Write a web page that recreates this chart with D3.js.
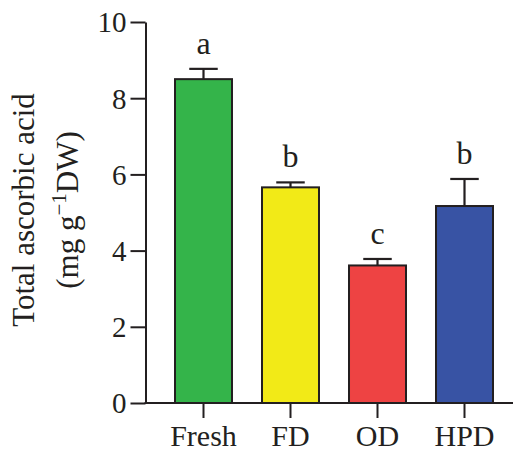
<!DOCTYPE html>
<html>
<head>
<meta charset="utf-8">
<script src="https://cdn.jsdelivr.net/npm/d3@7"></script>
<style>
  html, body { margin: 0; padding: 0; background: #fff; }
  svg { display: block; }
  text { font-family: "Liberation Serif", "Times New Roman", serif; fill: #231f20; }
</style>
</head>
<body>
<svg id="chart" width="515" height="450"></svg>
<script>
// Total ascorbic acid by drying treatment (mean ± SD)
const categories = ["Fresh", "FD", "OD", "HPD"];
const means = [8.50, 5.66, 3.61, 5.17];
const errors = [0.27, 0.13, 0.17, 0.71];
const letters = ["a", "b", "c", "b"];
const colors = ["#34b44a", "#f2ea17", "#ee4343", "#3853a4"];
const yTicks = [0, 2, 4, 6, 8, 10];

const svg = d3.select("#chart");
const ink = "#231f20";

const y = d3.scaleLinear().domain([0, 10]).range([403, 22]);
const x = d3.scaleBand().domain(categories).range([160, 508])
  .paddingInner(0.345).paddingOuter(0.1725);

const axisX0 = 145.5;
const axisXEnd = 513;

// y axis
const gy = svg.append("g").attr("transform", `translate(${axisX0},0)`)
  .call(d3.axisLeft(y).tickValues(yTicks).tickSize(15).tickSizeOuter(0).tickPadding(4));
gy.select(".domain").attr("stroke", ink).attr("stroke-width", 2);
gy.selectAll(".tick line").attr("stroke", ink).attr("stroke-width", 2);
gy.selectAll(".tick text").attr("font-size", 29).attr("fill", ink)
  .attr("dy", "0.34em")
  .style("font-family", '"Liberation Serif", serif');

// x axis
const gx = svg.append("g").attr("transform", `translate(0,${y(0)})`)
  .call(d3.axisBottom(x).tickSize(15).tickSizeOuter(0).tickPadding(7));
gx.select(".domain").remove();
gx.selectAll(".tick line").attr("stroke", ink).attr("stroke-width", 2);
gx.selectAll(".tick text").attr("font-size", 30).attr("fill", ink)
  .attr("dy", "0.7em")
  .style("font-family", '"Liberation Serif", serif');
svg.append("line")
  .attr("x1", axisX0 - 1).attr("x2", axisXEnd)
  .attr("y1", y(0)).attr("y2", y(0))
  .attr("stroke", ink).attr("stroke-width", 2);

// bars
svg.append("g").selectAll("rect").data(categories).join("rect")
  .attr("x", d => x(d))
  .attr("y", (d, i) => y(means[i]))
  .attr("width", x.bandwidth())
  .attr("height", (d, i) => y(0) - y(means[i]))
  .attr("fill", (d, i) => colors[i])
  .attr("stroke", ink).attr("stroke-width", 2);

// error bars (upper only)
const capHalf = x.bandwidth() / 4;
const eb = svg.append("g").attr("stroke", ink).attr("stroke-width", 2.2);
categories.forEach((c, i) => {
  const cx = x(c) + x.bandwidth() / 2;
  eb.append("line").attr("x1", cx).attr("x2", cx)
    .attr("y1", y(means[i])).attr("y2", y(means[i] + errors[i]));
  eb.append("line").attr("x1", cx - capHalf).attr("x2", cx + capHalf)
    .attr("y1", y(means[i] + errors[i])).attr("y2", y(means[i] + errors[i]));
});

// significance letters
svg.append("g").selectAll("text").data(categories).join("text")
  .attr("x", d => x(d) + x.bandwidth() / 2)
  .attr("y", (d, i) => y(means[i] + errors[i]) - 15)
  .attr("text-anchor", "middle")
  .attr("font-size", 32)
  .text((d, i) => letters[i]);

// y axis title (two lines)
const title = svg.append("g").attr("transform", "translate(0,210) rotate(-90)");
title.append("text")
  .attr("x", 0).attr("y", 34)
  .attr("text-anchor", "middle")
  .attr("font-size", 31)
  .text("Total ascorbic acid");
const t2 = title.append("text")
  .attr("x", 0).attr("y", 78)
  .attr("text-anchor", "middle")
  .attr("font-size", 31);
t2.append("tspan").text("(mg g");
t2.append("tspan").attr("dy", -12).attr("font-size", 21).text("\u22121");
t2.append("tspan").attr("dy", 12).text("DW)");
</script>
</body>
</html>
